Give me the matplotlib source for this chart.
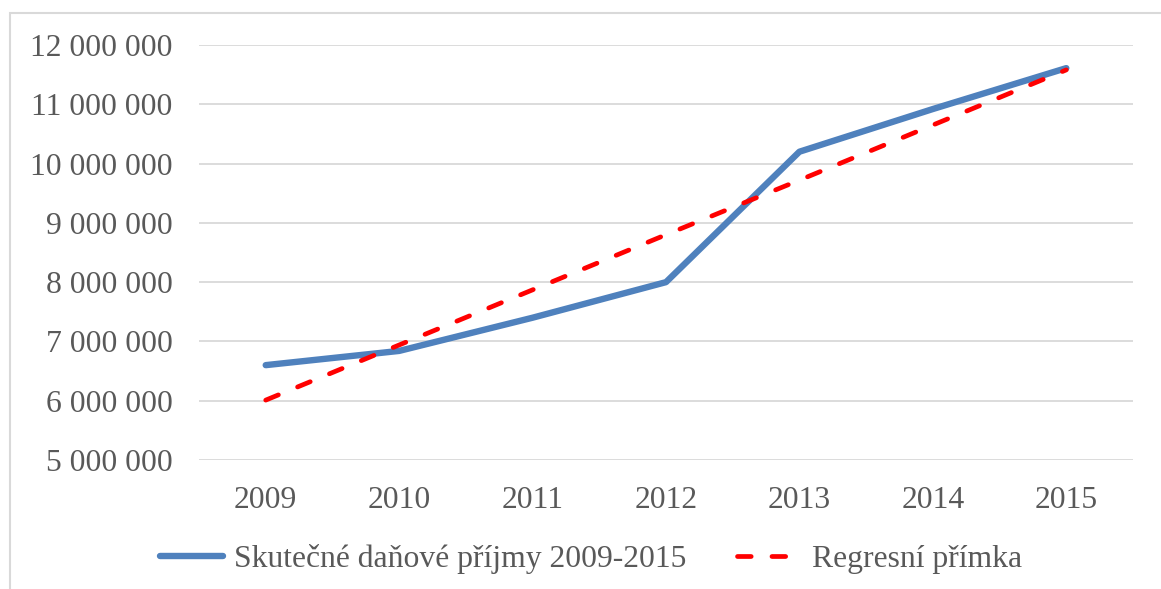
import matplotlib.pyplot as plt
from matplotlib.patches import Rectangle
from matplotlib.ticker import FuncFormatter

roky = ['2009', '2010', '2011', '2012', '2013', '2014', '2015']
prijmy = [6600000, 6840000, 7400000, 8000000, 10200000, 10920000, 11610000]
regrese = [6010000, 6940000, 7870000, 8800000, 9720000, 10650000, 11580000]
y_ticks = [5000000, 6000000, 7000000, 8000000, 9000000, 10000000, 11000000, 12000000]

plt.rcParams['font.family'] = ['Liberation Serif', 'DejaVu Serif']
text_color = '#595959'

fig = plt.figure(figsize=(11.61, 5.89), dpi=100)
ax = fig.add_axes([199/1161, 1-460/589, (1133-199)/1161, (460-45)/589])

x = range(len(roky))
ax.plot(x, prijmy, color='#4f81bd', linewidth=4.6, solid_capstyle='round',
        solid_joinstyle='round', label='Skutečné daňové příjmy 2009-2015', zorder=3)
ax.plot(x, regrese, color='#ff0000', linewidth=3.4, linestyle=(0, (2.9, 4.4)),
        dash_capstyle='round', label='Regresní přímka', zorder=4)

ax.set_xlim(-0.5, 6.5)
ax.set_ylim(5000000, 12000000)
ax.set_xticks(list(x))
ax.set_xticklabels(roky)
ax.set_yticks(y_ticks)
ax.yaxis.set_major_formatter(FuncFormatter(lambda v, p: f'{int(v):,}'.replace(',', ' ')))
ax.grid(axis='y', color='#d9d9d9', linewidth=1.3)
ax.set_axisbelow(True)
for s in ax.spines.values():
    s.set_visible(False)
ax.tick_params(length=0, labelsize=22.8, colors=text_color)
ax.tick_params(axis='y', pad=19)
ax.tick_params(axis='x', pad=19)

leg = fig.legend(loc='center', bbox_to_anchor=(591/1161, 1-559/589), ncol=2, frameon=False,
                 fontsize=22.8, handlelength=2.0, handletextpad=0.35, columnspacing=1.6)
for t in leg.get_texts():
    t.set_color(text_color)

fig.patches.append(Rectangle((10/1161, -0.1), 1.2, 1-13/589+0.1, transform=fig.transFigure,
                             fill=False, edgecolor='#d9d9d9', linewidth=1.5))

fig.savefig('out.png', dpi=100)
